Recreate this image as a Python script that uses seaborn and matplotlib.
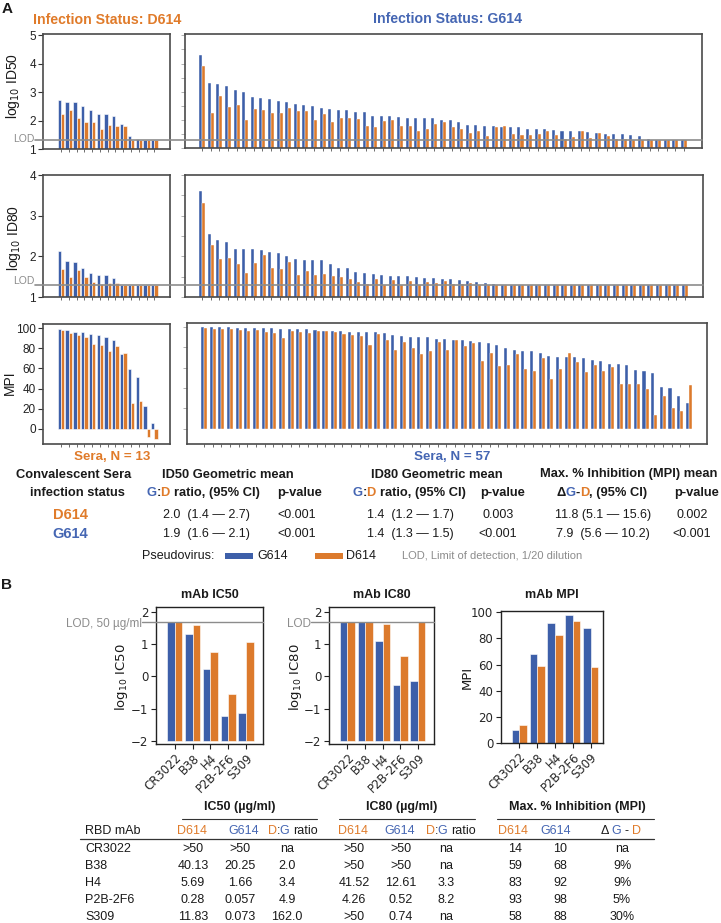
import numpy as np
import pandas as pd
import matplotlib
matplotlib.use("Agg")
import matplotlib.pyplot as plt
from matplotlib.lines import Line2D
from matplotlib.patches import Rectangle
import seaborn as sns

# ------------------------------------------------------------------ data
pseudovirus = ["G614", "D614"]

# Panel A - sera from D614-infected donors (N = 13)
sera_d = ["d%02d" % (i + 1) for i in range(13)]
d_id50_g = [2.73, 2.66, 2.65, 2.52, 2.38, 2.25, 2.22, 2.16, 1.87, 1.46, 1.36, 1.33, 1.32]
d_id50_d = [2.24, 2.38, 2.09, 1.95, 1.95, 1.71, 1.85, 1.81, 1.81, 1.31, 1.31, 1.31, 1.31]
d_id80_g = [2.13, 1.89, 1.87, 1.72, 1.59, 1.53, 1.53, 1.47, 1.30, 1.30, 1.30, 1.30, 1.30]
d_id80_d = [1.68, 1.50, 1.66, 1.50, 1.36, 1.33, 1.34, 1.34, 1.30, 1.30, 1.30, 1.30, 1.30]
d_mpi_g = [99.0, 97.7, 96.0, 96.0, 94.4, 93.0, 91.0, 88.0, 74.2, 59.0, 51.0, 23.0, 5.6]
d_mpi_d = [98.0, 95.0, 93.0, 90.7, 83.8, 82.8, 76.8, 81.8, 75.2, 25.8, 27.8, -8.3, -10.3]

# Panel A - sera from G614-infected donors (N = 57)
sera_g = ["g%02d" % (i + 1) for i in range(57)]
g_id50_g = [4.31, 3.31, 3.28, 3.19, 3.07, 2.98, 2.81, 2.76, 2.73, 2.68,
            2.65, 2.56, 2.53, 2.48, 2.42, 2.40, 2.34, 2.34, 2.29, 2.27,
            2.15, 2.13, 2.12, 2.09, 2.08, 2.08, 2.07, 2.06, 2.00, 1.98,
            1.94, 1.80, 1.80, 1.78, 1.78, 1.76, 1.74, 1.74, 1.69, 1.66,
            1.66, 1.65, 1.62, 1.60, 1.59, 1.58, 1.53, 1.51, 1.48, 1.48,
            1.47, 1.41, 1.33, 1.30, 1.30, 1.30, 1.30]
g_id50_d = [3.92, 2.26, 2.86, 2.47, 2.51, 1.98, 2.39, 2.35, 2.26, 2.26,
            2.42, 2.33, 2.31, 1.99, 2.22, 1.91, 2.08, 2.07, 2.02, 1.78,
            1.76, 1.95, 1.98, 1.79, 1.79, 1.60, 1.66, 1.87, 1.93, 1.73,
            1.66, 1.54, 1.59, 1.41, 1.74, 1.79, 1.51, 1.45, 1.46, 1.48,
            1.60, 1.45, 1.31, 1.39, 1.60, 1.35, 1.55, 1.41, 1.31, 1.31,
            1.30, 1.30, 1.30, 1.30, 1.30, 1.30, 1.30]
g_id80_g = [3.61, 2.56, 2.40, 2.36, 2.17, 2.17, 2.17, 2.15, 2.10, 2.09,
            2.01, 1.94, 1.92, 1.92, 1.90, 1.81, 1.71, 1.71, 1.62, 1.59,
            1.56, 1.53, 1.52, 1.51, 1.51, 1.48, 1.46, 1.46, 1.45, 1.44,
            1.43, 1.39, 1.37, 1.35, 1.33, 1.30, 1.30, 1.30, 1.30, 1.30,
            1.30, 1.30, 1.30, 1.30, 1.30, 1.30, 1.30, 1.30, 1.30, 1.30,
            1.30, 1.30, 1.30, 1.30, 1.30, 1.30, 1.30]
g_id80_d = [3.30, 2.27, 1.94, 1.97, 1.81, 1.60, 1.83, 2.04, 1.71, 1.70,
            1.85, 1.55, 1.64, 1.54, 1.56, 1.51, 1.48, 1.45, 1.36, 1.33,
            1.44, 1.30, 1.43, 1.30, 1.39, 1.30, 1.37, 1.34, 1.39, 1.33,
            1.31, 1.34, 1.30, 1.30, 1.30, 1.30, 1.30, 1.30, 1.30, 1.30,
            1.30, 1.30, 1.30, 1.30, 1.30, 1.30, 1.30, 1.30, 1.30, 1.30,
            1.30, 1.30, 1.30, 1.30, 1.30, 1.30, 1.30]
g_mpi_g = [99.7, 99.7, 99.7, 99.7, 98.7, 98.7, 98.7, 98.7, 98.7, 97.7,
           97.7, 97.7, 97.7, 97.3, 96.6, 96.6, 96.6, 95.0, 95.0, 95.0,
           95.0, 94.0, 92.6, 91.6, 89.9, 89.9, 89.9, 88.6, 88.0, 87.6,
           86.9, 86.6, 85.6, 83.9, 81.9, 79.9, 77.9, 76.5, 76.5, 74.8,
           71.5, 70.5, 70.5, 70.5, 69.5, 67.4, 66.4, 63.8, 63.8, 62.4,
           57.4, 56.4, 54.7, 41.3, 39.6, 32.2, 25.2]
g_mpi_d = [98.7, 98.3, 98.3, 98.3, 97.3, 96.3, 97.3, 95.6, 94.6, 89.6,
           96.6, 95.6, 94.6, 96.6, 96.0, 95.3, 93.3, 92.6, 91.6, 82.6,
           93.6, 87.6, 77.5, 85.2, 79.5, 73.8, 76.5, 85.2, 77.9, 87.6,
           81.5, 84.6, 66.4, 74.8, 61.4, 63.1, 73.2, 59.0, 56.4, 69.5,
           49.3, 59.0, 74.2, 65.4, 55.4, 62.4, 56.4, 60.4, 44.3, 44.3,
           44.3, 38.6, 13.1, 32.2, 20.5, 17.1, 43.3]

lod_log = 1.3          # log10(20)
lod_mab = 1.7          # log10(50)

# Panel A summary table
ratio50 = ["2.0  (1.4 \u2014 2.7)", "1.9  (1.6 \u2014 2.1)"]
p50 = ["<0.001", "<0.001"]
ratio80 = ["1.4  (1.2 \u2014 1.7)", "1.4  (1.3 \u2014 1.5)"]
p80 = ["0.003", "<0.001"]
dmpi = ["11.8 (5.1 \u2014 15.6)", "7.9  (5.6 \u2014 10.2)"]
pmpi = ["0.002", "<0.001"]

# Panel B - monoclonal antibodies
mabs = ["CR3022", "B38", "H4", "P2B-2F6", "S309"]
ic50_log_g = [1.70, 1.31, 0.22, -1.24, -1.14]
ic50_log_d = [1.70, 1.60, 0.76, -0.55, 1.07]
ic80_log_g = [1.70, 1.70, 1.10, -0.28, -0.13]
ic80_log_d = [1.70, 1.70, 1.62, 0.63, 1.70]
mpi_g = [10, 68, 92, 98, 88]
mpi_d = [14, 59, 83, 93, 58]

ic50_d_txt = [">50", "40.13", "5.69", "0.28", "11.83"]
ic50_g_txt = [">50", "20.25", "1.66", "0.057", "0.073"]
ic50_ratio = ["na", "2.0", "3.4", "4.9", "162.0"]
ic80_d_txt = [">50", ">50", "41.52", "4.26", ">50"]
ic80_g_txt = [">50", ">50", "12.61", "0.52", "0.74"]
ic80_ratio = ["na", "na", "3.3", "8.2", "na"]
mpi_delta = ["na", "9%", "9%", "5%", "30%"]

# ------------------------------------------------------------------ style
W, H = 721, 923
BLUE = "#3d5fa9"
ORANGE = "#dc7a2c"
TBLUE = "#4566b3"
TORANGE = "#e07b2a"
GRAY = "#8c8c8c"
DARK = "#1a1a1a"
SANS = ["Liberation Sans", "DejaVu Sans"]

sns.set_style("white")
plt.rcParams["font.family"] = SANS
plt.rcParams["mathtext.fontset"] = "dejavusans"

fig = plt.figure(figsize=(W / 100, H / 100), dpi=100)
renderer = fig.canvas.get_renderer()


def add_ax(x0, y0, x1, y1):
    return fig.add_axes([x0 / W, 1 - y1 / H, (x1 - x0) / W, (y1 - y0) / H])


def T(x, y, s, **kw):
    kw.setdefault("ha", "center")
    kw.setdefault("va", "center")
    kw.setdefault("color", DARK)
    return fig.text(x / W, 1 - y / H, s, **kw)


def text_width(s, **kw):
    t1 = fig.text(0, 0, s + "|", **kw)
    t2 = fig.text(0, 0, "|", **kw)
    w = t1.get_window_extent(renderer).width - t2.get_window_extent(renderer).width
    t1.remove()
    t2.remove()
    return w


def multi(x, y, parts, ha="center", **kw):
    widths = [text_width(s, **kw) for s, _ in parts]
    total = sum(widths)
    x0 = x - total / 2 if ha == "center" else (x if ha == "left" else x - total)
    for (s, c), w in zip(parts, widths):
        T(x0, y, s, ha="left", color=c, **kw)
        x0 += w


def draw_bars(ax, cats, g_vals, d_vals, width, base=None, lw=0.4):
    df = pd.DataFrame({
        "item": list(cats) + list(cats),
        "value": list(g_vals) + list(d_vals),
        "pseudovirus": ["G614"] * len(cats) + ["D614"] * len(cats),
    })
    extra = {}
    if base is not None:
        df["value"] = df["value"] - base
        extra["bottom"] = base
    sns.barplot(data=df, x="item", y="value", hue="pseudovirus", order=list(cats),
                hue_order=pseudovirus, palette={"G614": BLUE, "D614": ORANGE},
                width=width, saturation=1, legend=False, ax=ax, errorbar=None,
                edgecolor="white", linewidth=lw, **extra)
    ax.set_xlabel("")
    ax.set_ylabel("")


def style_a(ax, n, xlim, ylim, yticks, labels):
    ax.set_xlim(*xlim)
    ax.set_ylim(*ylim)
    ax.set_xticks(range(n))
    ax.set_xticklabels([])
    ax.set_yticks(yticks)
    for s in ax.spines.values():
        s.set_visible(True)
        s.set_color("#4a4a4a")
        s.set_linewidth(1.2)
    ax.tick_params(axis="x", bottom=True, direction="out", length=2.5, width=0.6,
                   color="#555555")
    if labels is None:
        ax.set_yticklabels([])
        ax.tick_params(axis="y", left=True, direction="out", length=3, width=0.7,
                       color="#b0b0b0")
    else:
        ax.set_yticklabels(labels)
        ax.tick_params(axis="y", left=True, direction="out", length=3.5, width=0.8,
                       color="#333333", labelsize=8.5, pad=1.5, labelcolor="#222222")


def lod_line(ax, val, x0, x1, lw=1.2):
    yd = ax.transData.transform((0, val))[1]
    yf = yd / fig.bbox.height
    fig.add_artist(Line2D([x0 / W, x1 / W], [yf, yf], transform=fig.transFigure,
                          color=GRAY, lw=lw, zorder=5))
    return H - yd


LEFT_XLIM = (-2.3, 14.0)
RIGHT_XLIM = (-2.0, 58.1)

# ------------------------------------------------------------------ panel A plots
ax = add_ax(43, 34, 170, 149)
draw_bars(ax, sera_d, d_id50_g, d_id50_d, 0.85)
style_a(ax, 13, LEFT_XLIM, (1, 5.05), [1, 2, 3, 4, 5], ["1", "2", "3", "4", "5"])
ly = lod_line(ax, lod_log, 35, 702)
T(34, ly - 1, "LOD", ha="right", color=GRAY, fontsize=7.5)

ax = add_ax(185, 34, 702, 148)
draw_bars(ax, sera_g, g_id50_g, g_id50_d, 0.7, lw=0.3)
style_a(ax, 57, RIGHT_XLIM, (1, 5.05), np.arange(1, 5.01, 0.5), None)

ax = add_ax(43, 175, 170, 297)
draw_bars(ax, sera_d, d_id80_g, d_id80_d, 0.85)
style_a(ax, 13, LEFT_XLIM, (1, 4.0), [1, 2, 3, 4], ["1", "2", "3", "4"])
ly = lod_line(ax, lod_log, 35, 703)
T(34, ly - 4, "LOD", ha="right", color=GRAY, fontsize=7.5)

ax = add_ax(185, 175, 703, 297)
draw_bars(ax, sera_g, g_id80_g, g_id80_d, 0.7, lw=0.3)
style_a(ax, 57, RIGHT_XLIM, (1, 4.0), np.arange(1, 4.01, 0.5), None)

ax = add_ax(43, 324, 170, 444)
draw_bars(ax, sera_d, d_mpi_g, d_mpi_d, 0.85)
style_a(ax, 13, LEFT_XLIM, (-15, 104), [0, 20, 40, 60, 80, 100],
        ["0", "20", "40", "60", "80", "100"])

ax = add_ax(187, 323, 707, 444)
draw_bars(ax, sera_g, g_mpi_g, g_mpi_d, 0.7, lw=0.3)
style_a(ax, 57, (-1.96, 58.1), (-15, 104), [0, 20, 40, 60, 80, 100], None)

# panel A labels
T(7, 9, "A", fontsize=11, fontweight="bold")
T(107, 20, "Infection Status: D614", color=TORANGE, fontsize=10.2, fontweight="bold")
T(448, 19, "Infection Status: G614", color=TBLUE, fontsize=10.2, fontweight="bold")
T(13, 86, "log$_{10}$ ID50", rotation=90, fontsize=10)
T(14, 238, "log$_{10}$ ID80", rotation=90, fontsize=10)
T(10, 383, "MPI", rotation=90, fontsize=10)
T(112, 457, "Sera, N = 13", color=TORANGE, fontsize=9.6, fontweight="bold")
T(452, 457, "Sera, N = 57", color=TBLUE, fontsize=9.6, fontweight="bold")

# panel A table
HB = dict(fontsize=9.3, fontweight="bold")
VAL = dict(fontsize=9)
T(74, 475, "Convalescent Sera", **HB)
T(77, 493, "infection status", **HB)
T(70, 515, "D614", color=TORANGE, fontsize=10.5, fontweight="bold")
T(70, 534, "G614", color=TBLUE, fontsize=10.5, fontweight="bold")

T(228, 475, "ID50 Geometric mean", **HB)
multi(203, 493, [("G", TBLUE), (":", DARK), ("D ", TORANGE), ("ratio, (95% CI)", DARK)], **HB)
T(300, 493, "p-value", **HB)
T(437, 475, "ID80 Geometric mean", **HB)
multi(409, 493, [("G", TBLUE), (":", DARK), ("D ", TORANGE), ("ratio, (95% CI)", DARK)], **HB)
T(503, 493, "p-value", **HB)
T(629, 474, "Max. % Inhibition (MPI) mean", **HB)
multi(602, 493, [("\u0394", DARK), ("G", TBLUE), ("-", DARK), ("D", TORANGE),
                 (", (95% CI)", DARK)], **HB)
T(697, 493, "p-value", **HB)

for k, yy in enumerate([515, 534]):
    T(206, yy, ratio50[k], **VAL)
    T(297, yy, p50[k], **VAL)
    T(410, yy, ratio80[k], **VAL)
    T(498, yy, p80[k], **VAL)
    T(603, yy, dmpi[k], **VAL)
    T(692, yy, pmpi[k], **VAL)

# legend
T(142, 556, "Pseudovirus:", ha="left", fontsize=9)
fig.add_artist(Rectangle((225 / W, 1 - 559 / H), 28 / W, 6 / H, transform=fig.transFigure,
                         facecolor=BLUE, edgecolor="none"))
T(257, 556, "G614", ha="left", fontsize=9)
fig.add_artist(Rectangle((315 / W, 1 - 559 / H), 28 / W, 6 / H, transform=fig.transFigure,
                         facecolor=ORANGE, edgecolor="none"))
T(346, 556, "D614", ha="left", fontsize=9)
T(402, 556, "LOD, Limit of detection, 1/20 dilution", ha="left", color=GRAY, fontsize=8)

# ------------------------------------------------------------------ panel B plots
T(7, 585, "B", fontsize=11, fontweight="bold")
T(209.5, 595, "mAb IC50", fontsize=9, fontweight="bold")
T(381.7, 595, "mAb IC80", fontsize=9, fontweight="bold")
T(552, 595, "mAb MPI", fontsize=9, fontweight="bold")


def style_b(ax, ylim, yticks):
    ax.set_xlim(-1.05, 4.95)
    ax.set_ylim(*ylim)
    ax.set_yticks(yticks)
    ax.set_xticks(range(len(mabs)))
    ax.set_xticklabels(mabs, rotation=45, ha="right", rotation_mode="anchor")
    for s in ax.spines.values():
        s.set_visible(True)
        s.set_color("#222222")
        s.set_linewidth(1.0)
    ax.tick_params(axis="both", direction="out", length=3.5, width=0.8, color="#222222",
                   labelsize=8.5, labelfontfamily="DejaVu Sans", pad=2,
                   bottom=True, left=True)


ax = add_ax(156, 607, 263, 744)
draw_bars(ax, mabs, ic50_log_g, ic50_log_d, 0.85, base=-2)
style_b(ax, (-2.1, 2.16), [-2, -1, 0, 1, 2])
ax.axhline(lod_mab, xmin=(142 - 156) / 107, xmax=1, color=GRAY, lw=1.0, clip_on=False,
           zorder=4)
ly = H - ax.transData.transform((0, lod_mab))[1]
T(142, ly + 2, "LOD, 50 \u00b5g/ml", ha="right", color=GRAY, fontsize=8.5)
T(122, 677, "log$_{10}$ IC50", rotation=90, fontsize=9.5, family="DejaVu Sans")

ax = add_ax(329, 607, 434.5, 744)
draw_bars(ax, mabs, ic80_log_g, ic80_log_d, 0.85, base=-2)
style_b(ax, (-2.1, 2.16), [-2, -1, 0, 1, 2])
ax.axhline(lod_mab, xmin=(311 - 329) / 105.5, xmax=1, color=GRAY, lw=1.0, clip_on=False,
           zorder=4)
ly = H - ax.transData.transform((0, lod_mab))[1]
T(311, ly + 2, "LOD", ha="right", color=GRAY, fontsize=8.5)
T(296, 677, "log$_{10}$ IC80", rotation=90, fontsize=9.5, family="DejaVu Sans")

ax = add_ax(501, 611, 603, 743)
draw_bars(ax, mabs, mpi_g, mpi_d, 0.85)
style_b(ax, (0, 101), [0, 20, 40, 60, 80, 100])
ax.set_xlim(-1.03, 4.7)
T(467, 677, "MPI", rotation=90, fontsize=9.5, family="DejaVu Sans")

# ------------------------------------------------------------------ panel B table
TB = dict(fontsize=9, fontweight="bold")
TV = dict(fontsize=9)
T(240, 807, "IC50 (\u00b5g/ml)", **TB)
T(402, 807, "IC80 (\u00b5g/ml)", **TB)
T(577, 807, "Max. % Inhibition (MPI)", **TB)
for x0, x1 in [(182, 317), (339, 475), (497, 654)]:
    fig.add_artist(Line2D([x0 / W, x1 / W], [1 - 819 / H] * 2, transform=fig.transFigure,
                          color="#333333", lw=0.8))
fig.add_artist(Line2D([80 / W, 654 / W], [1 - 839 / H] * 2, transform=fig.transFigure,
                      color="#333333", lw=0.9))

hy = 831
T(85, hy, "RBD mAb", ha="left", **TV)
T(192, hy, "D614", color=TORANGE, **TV)
T(244, hy, "G614", color=TBLUE, **TV)
multi(293, hy, [("D", TORANGE), (":", DARK), ("G ", TBLUE), ("ratio", DARK)], **TV)
T(353, hy, "D614", color=TORANGE, **TV)
T(400, hy, "G614", color=TBLUE, **TV)
multi(451, hy, [("D", TORANGE), (":", DARK), ("G ", TBLUE), ("ratio", DARK)], **TV)
T(513, hy, "D614", color=TORANGE, **TV)
T(556, hy, "G614", color=TBLUE, **TV)
multi(621, hy, [("\u0394 ", DARK), ("G ", TBLUE), ("- ", DARK), ("D", TORANGE)], **TV)

row_y = [849, 866, 883, 900, 916.5]
cols = [193, 240, 287, 354, 401, 446, 515, 560, 622]
for k, yy in enumerate(row_y):
    T(85, yy, mabs[k], ha="left", **TV)
    vals = [ic50_d_txt[k], ic50_g_txt[k], ic50_ratio[k],
            ic80_d_txt[k], ic80_g_txt[k], ic80_ratio[k],
            str(mpi_d[k]), str(mpi_g[k]), mpi_delta[k]]
    for cx, v in zip(cols, vals):
        T(cx, yy, v, **TV)

fig.savefig("out.png", dpi=100)
